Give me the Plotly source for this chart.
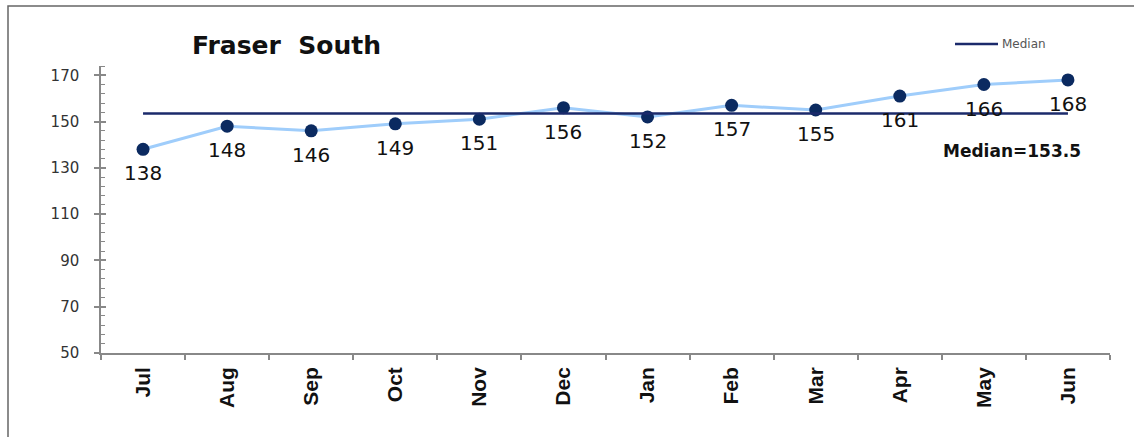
import plotly.graph_objects as go

months = ["Jul", "Aug", "Sep", "Oct", "Nov", "Dec", "Jan", "Feb", "Mar", "Apr", "May", "Jun"]
values = [138, 148, 146, 149, 151, 156, 152, 157, 155, 161, 166, 168]
median_value = 153.5
y_ticks = [50, 70, 90, 110, 130, 150, 170]
title_text = "Fraser  South"

W, H = 1134, 437
L, R, T, B = 101, 24, 66, 84
pw, ph = W - L - R, H - T - B


def px_x(p):
    return (p - L) / pw


def px_y(p):
    return (H - B - p) / ph


fig = go.Figure()
fig.add_trace(go.Scatter(
    x=months, y=values, mode="lines+markers",
    line=dict(color="#9fcdfb", width=3),
    marker=dict(color="#0b2a60", size=13),
    showlegend=False, hoverinfo="x+y",
))
fig.add_trace(go.Scatter(
    x=months, y=[median_value] * len(months), mode="lines",
    line=dict(color="#1b2a6b", width=2.5), name="Median",
    showlegend=False, yaxis="y2",
))

for m, v in zip(months, values):
    fig.add_annotation(x=m, y=v, text=str(v), showarrow=False, yshift=-24,
                       font=dict(family="DejaVu Sans", size=20, color="#111111"))

fig.add_annotation(xref="paper", yref="paper", x=px_x(286), y=px_y(46), text="<b>" + title_text + "</b>",
                   showarrow=False, xanchor="center", yanchor="middle",
                   font=dict(family="DejaVu Sans", size=25, color="#111111"))
fig.add_annotation(xref="paper", yref="paper", x=px_x(1012), y=px_y(151),
                   text="<b>Median=" + str(median_value) + "</b>",
                   showarrow=False, xanchor="center", yanchor="middle",
                   font=dict(family="DejaVu Sans", size=17, color="#111111"))
# legend
fig.add_shape(type="line", xref="paper", yref="paper", x0=px_x(955), x1=px_x(998),
              y0=px_y(44), y1=px_y(44), line=dict(color="#1b2a6b", width=2.5))
fig.add_annotation(xref="paper", yref="paper", x=px_x(1000), y=px_y(44), text="Median",
                   showarrow=False, xanchor="left", yanchor="middle",
                   font=dict(family="DejaVu Sans", size=12, color="#555555"))
# outer frame
fig.add_shape(type="rect", xref="paper", yref="paper", x0=px_x(8), x1=px_x(1200),
              y0=px_y(500), y1=px_y(6), line=dict(color="#666666", width=1.5))

fig.update_layout(
    width=W, height=H,
    margin=dict(l=L, r=R, t=T, b=B),
    paper_bgcolor="white", plot_bgcolor="white",
    xaxis=dict(
        type="category", range=[-0.5, 11.5], tickson="boundaries",
        showline=True, linecolor="#888888", linewidth=1.5,
        ticks="outside", ticklen=5, tickcolor="#888888", tickwidth=1.5,
        tickangle=-90, showgrid=False, zeroline=False,
        tickfont=dict(family="Liberation Sans, Arial", size=21, color="#111111", weight="bold"),
        ticklabelstandoff=4,
    ),
    yaxis=dict(
        range=[50, 174], tickvals=y_ticks, showline=True, linecolor="#888888", linewidth=1.5,
        ticks="outside", ticklen=5, tickcolor="#888888", tickwidth=1.5,
        showgrid=False, zeroline=False,
        tickfont=dict(family="DejaVu Sans", size=15, color="#333333"),
        ticklabelstandoff=12,
        minor=dict(ticks="inside", ticklen=4, dtick=4, tick0=50, tickcolor="#888888", tickwidth=1, showgrid=False),
    ),
    yaxis2=dict(
        range=[50, 174], overlaying="y", side="left", anchor="x",
        tickvals=y_ticks, ticks="inside", ticklen=5, tickcolor="#888888", tickwidth=1.5,
        showticklabels=False, showgrid=False, zeroline=False, showline=False,
    ),
)

fig.write_html("out.html")
